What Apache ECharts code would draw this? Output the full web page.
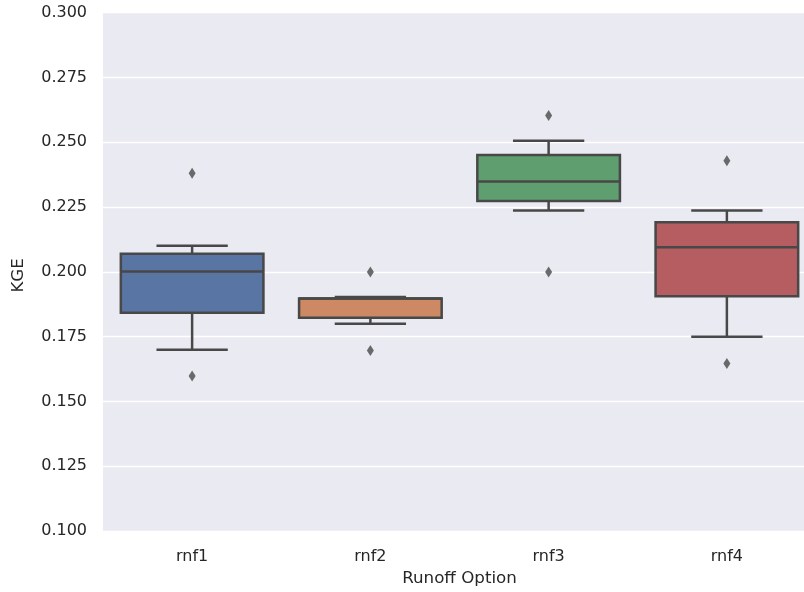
<!DOCTYPE html>
<html>
<head>
<meta charset="utf-8">
<script src="https://cdn.jsdelivr.net/npm/echarts@6/dist/echarts.min.js"></script>
<style>
  html, body { margin: 0; padding: 0; background: #ffffff; overflow: hidden; }
  #chart { width: 816px; height: 592px; }
</style>
</head>
<body>
<div id="chart"></div>
<script>
// KGE score distribution per runoff option
const categories = ['rnf1', 'rnf2', 'rnf3', 'rnf4'];
const whiskerLow  = [0.1700, 0.1800, 0.2237, 0.1750];
const quartile1   = [0.1842, 0.1823, 0.2274, 0.1906];
const medians     = [0.2002, 0.1897, 0.2349, 0.2095];
const quartile3   = [0.2070, 0.1897, 0.2451, 0.2192];
const whiskerHigh = [0.2101, 0.1903, 0.2506, 0.2237];
const outlierCategory = [0, 0, 1, 1, 2, 2, 3, 3];
const outlierValues   = [0.2381, 0.1598, 0.2000, 0.1697, 0.2603, 0.2000, 0.2429, 0.1647];
const yTicks = { min: 0.100, max: 0.300, step: 0.025 };
const boxColors = ['#5975a4', '#cc8963', '#5f9e6e', '#b55d60'];

const lineColor = '#484848';
const textColor = '#262626';
const fontFamily = 'DejaVu Sans';

const boxData = categories.map((c, i) => [i, whiskerLow[i], quartile1[i], medians[i], quartile3[i], whiskerHigh[i]]);
const outlierData = outlierValues.map((v, i) => [outlierCategory[i], v]);

function renderBox(params, api) {
  const idx = api.value(0);
  const band = api.size([1, 0])[0];
  const boxW = band * 0.8;
  const capW = boxW / 2;
  const pLow = api.coord([idx, api.value(1)]);
  const pQ1 = api.coord([idx, api.value(2)]);
  const pMed = api.coord([idx, api.value(3)]);
  const pQ3 = api.coord([idx, api.value(4)]);
  const pHigh = api.coord([idx, api.value(5)]);
  const cx = pMed[0];
  const lw = 2.5;
  const stroke = { stroke: lineColor, lineWidth: lw };
  return {
    type: 'group',
    children: [
      { type: 'line', shape: { x1: cx, y1: pQ1[1], x2: cx, y2: pLow[1] }, style: stroke },
      { type: 'line', shape: { x1: cx, y1: pQ3[1], x2: cx, y2: pHigh[1] }, style: stroke },
      { type: 'line', shape: { x1: cx - capW / 2, y1: pLow[1], x2: cx + capW / 2, y2: pLow[1] }, style: stroke },
      { type: 'line', shape: { x1: cx - capW / 2, y1: pHigh[1], x2: cx + capW / 2, y2: pHigh[1] }, style: stroke },
      {
        type: 'rect',
        shape: { x: cx - boxW / 2, y: pQ3[1], width: boxW, height: pQ1[1] - pQ3[1] },
        style: { fill: boxColors[idx], stroke: lineColor, lineWidth: lw }
      },
      { type: 'line', shape: { x1: cx - boxW / 2, y1: pMed[1], x2: cx + boxW / 2, y2: pMed[1] }, style: stroke }
    ]
  };
}

const chart = echarts.init(document.getElementById('chart'), null, { renderer: 'canvas' });
chart.setOption({
  animation: false,
  backgroundColor: '#ffffff',
  textStyle: { fontFamily: fontFamily },
  grid: {
    left: 103, right: 0, top: 12.7, bottom: 60.3,
    show: true, backgroundColor: '#eaeaf2', borderWidth: 0
  },
  xAxis: {
    type: 'category',
    data: categories,
    boundaryGap: true,
    name: 'Runoff Option',
    nameLocation: 'middle',
    nameGap: 37,
    nameTextStyle: { fontSize: 16.7, color: textColor, fontFamily: fontFamily },
    axisLine: { show: false },
    axisTick: { show: false },
    splitLine: { show: false },
    axisLabel: { fontSize: 16, color: textColor, margin: 18, fontFamily: fontFamily }
  },
  yAxis: {
    type: 'value',
    min: yTicks.min,
    max: yTicks.max,
    interval: yTicks.step,
    name: 'KGE',
    nameLocation: 'middle',
    nameGap: 76,
    nameRotate: 90,
    nameTextStyle: { fontSize: 16.7, color: textColor, fontFamily: fontFamily, padding: [0, 7, 0, 0] },
    axisLine: { show: false },
    axisTick: { show: false },
    splitLine: { show: true, lineStyle: { color: '#ffffff', width: 1.3 } },
    axisLabel: {
      fontSize: 16, color: textColor, margin: 16, fontFamily: fontFamily,
      formatter: v => v.toFixed(3)
    }
  },
  series: [
    {
      type: 'custom',
      renderItem: renderBox,
      data: boxData,
      encode: { x: 0, y: [1, 2, 3, 4, 5] },
      z: 2
    },
    {
      type: 'scatter',
      data: outlierData,
      symbol: 'diamond',
      symbolSize: [7, 11],
      itemStyle: { color: lineColor },
      z: 3
    }
  ]
});
</script>
</body>
</html>
